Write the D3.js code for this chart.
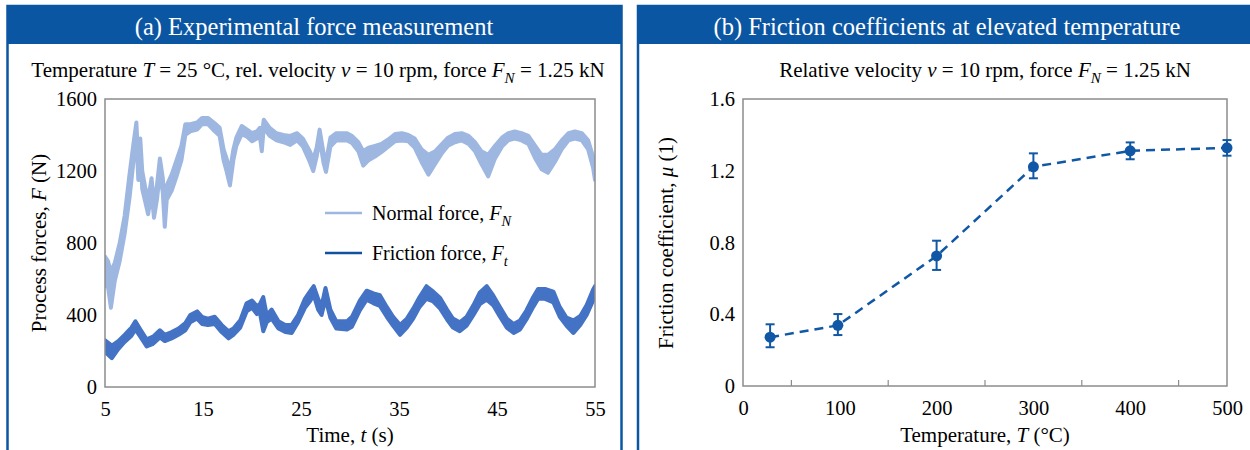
<!DOCTYPE html>
<html lang="en">
<head>
<meta charset="UTF-8">
<title>friction</title>
<script src="https://d3js.org/d3.v7.min.js"></script>
<style>
  body { margin: 0; background: #fff; }
  svg { display: block; font-family: "Liberation Serif", "Times New Roman", serif; }
  .axis line, .axis path { stroke: #8c8c8c; }
</style>
</head>
<body>
<script>
// ---- panel (a): force trace, [lo, hi] band per time step
const normalT = [5.0, 5.3, 5.6, 6.0, 6.5, 7.0, 7.5, 7.9, 8.2, 8.4, 8.6, 8.8, 9.1, 9.4, 9.75, 10.0, 10.3, 10.6, 10.9, 11.1,
  11.3, 11.8, 12.3, 12.8, 13.2, 13.7, 14.4, 14.9, 15.5, 16.2, 16.7, 17.1, 17.4, 17.75, 18.1, 18.4, 18.95, 19.5, 20.0, 20.5,
  20.8, 21.0, 21.2, 21.8, 22.5, 23.2, 23.9, 24.6, 25.2, 25.9, 26.25, 26.6, 26.9, 27.3, 27.55, 28.0, 28.6, 29.7, 30.2, 30.85,
  31.35, 31.9, 32.55, 33.2, 33.9, 34.6, 35.3, 35.95, 36.6, 37.3, 38.0, 38.7, 39.4, 40.0, 40.7, 41.4, 42.1, 42.75, 43.4, 44.1,
  44.8, 45.5, 46.15, 46.8, 47.5, 48.2, 48.9, 49.55, 50.2, 50.9, 51.6, 52.3, 52.95, 53.65, 54.3, 54.8, 55.0];
const normalLo = [560, 560, 440, 590, 700, 850, 1050, 1250, 1400, 1150, 1300, 1100, 1030, 960, 1080, 940, 1040, 1190, 1080, 890,
  1040, 1090, 1170, 1260, 1400, 1420, 1430, 1460, 1460, 1420, 1395, 1260, 1200, 1120, 1260, 1340, 1405, 1390, 1365, 1380,
  1395, 1310, 1440, 1395, 1370, 1360, 1345, 1370, 1335, 1250, 1200, 1280, 1380, 1245, 1195, 1335, 1370, 1370, 1355, 1310,
  1230, 1260, 1280, 1305, 1335, 1365, 1370, 1365, 1330, 1250, 1180, 1240, 1300, 1340, 1360, 1370, 1350, 1310, 1240, 1170,
  1270, 1335, 1370, 1380, 1370, 1350, 1270, 1210, 1190, 1250, 1320, 1370, 1380, 1370, 1320, 1220, 1150];
const normalHi = [725, 700, 640, 690, 800, 950, 1180, 1350, 1470, 1250, 1380, 1200, 1110, 1040, 1160, 1010, 1120, 1270, 1160, 960,
  1120, 1180, 1260, 1340, 1460, 1460, 1470, 1495, 1495, 1465, 1440, 1320, 1270, 1200, 1320, 1385, 1450, 1430, 1410, 1420,
  1440, 1400, 1485, 1440, 1410, 1400, 1395, 1410, 1380, 1310, 1265, 1330, 1430, 1300, 1250, 1385, 1410, 1410, 1395, 1360,
  1310, 1330, 1340, 1350, 1375, 1405, 1410, 1400, 1380, 1320, 1290, 1310, 1350, 1385, 1405, 1410, 1395, 1360, 1310, 1290,
  1340, 1385, 1410, 1420, 1410, 1395, 1340, 1290, 1290, 1320, 1370, 1410, 1420, 1410, 1370, 1280, 1250];

const frictionT = [5.0, 5.7, 6.35, 7.0, 7.7, 8.1, 8.6, 9.25, 9.9, 10.6, 11.1, 11.8, 12.5, 13.2, 13.7, 14.4, 14.9, 15.5, 16.2, 16.9,
  17.6, 18.1, 18.8, 19.45, 20.0, 20.5, 20.8, 21.15, 21.5, 22.0, 22.7, 23.4, 24.05, 24.7, 25.4, 25.9, 26.3, 26.75, 27.1, 27.5,
  28.0, 28.6, 29.7, 30.2, 31.0, 31.7, 32.4, 33.05, 33.75, 34.4, 35.1, 35.8, 36.45, 37.1, 37.8, 38.5, 39.2, 39.9, 40.5, 41.2,
  41.9, 42.6, 43.25, 43.95, 44.6, 45.3, 46.0, 46.7, 47.35, 48.0, 48.7, 49.2, 49.9, 50.75, 51.4, 52.1, 52.8, 53.5, 54.15, 54.8, 55.0];
const frictionLo = [195, 160, 210, 250, 285, 320, 280, 225, 240, 275, 255, 270, 290, 315, 360, 380, 350, 345, 350, 305,
  270, 290, 330, 420, 440, 405, 415, 310, 360, 380, 325, 305, 300, 360, 440, 475, 510, 430, 400, 490,
  385, 325, 320, 335, 425, 485, 465, 450, 390, 340, 290, 330, 380, 445, 490, 475, 435, 375, 330, 310,
  340, 400, 460, 485, 455, 390, 330, 300, 320, 375, 445, 490, 490, 470, 390, 340, 300, 345, 400, 480, 500];
const frictionHi = [260, 230, 255, 290, 330, 365, 320, 265, 280, 315, 290, 305, 325, 355, 400, 420, 390, 380, 390, 345,
  310, 325, 370, 465, 480, 450, 460, 500, 400, 430, 365, 345, 345, 400, 490, 530, 560, 490, 450, 550,
  430, 365, 365, 390, 480, 535, 520, 510, 445, 390, 345, 380, 435, 500, 560, 530, 495, 430, 380, 360,
  390, 455, 525, 560, 510, 445, 380, 350, 370, 425, 500, 545, 545, 530, 445, 385, 370, 395, 455, 540, 560];

const forceTicksX = [5, 15, 25, 35, 45, 55];
const forceTicksY = [0, 400, 800, 1200, 1600];

// ---- panel (b): friction coefficient vs temperature
const tempC = [28, 98, 200, 300, 400, 500];
const mu = [0.272, 0.338, 0.725, 1.222, 1.311, 1.328];
const muLo = [0.216, 0.284, 0.647, 1.158, 1.264, 1.284];
const muHi = [0.344, 0.401, 0.810, 1.297, 1.358, 1.371];
const tempTicks = [0, 100, 200, 300, 400, 500];
const tempMinor = [50, 150, 250, 350, 450];
const muTicks = [0, 0.4, 0.8, 1.2, 1.6];

const W = 1250, H = 450;
const BLUE = "#0b56a3";
const LIGHT = "#9db7e1", MID = "#4472c4", DARK = "#1152a0";

const svg = d3.select("body").append("svg").attr("width", W).attr("height", H);

// write text pieces: [string, italic?, sub?]
function rich(t, parts, size) {
  let back = 0;
  parts.forEach(p => {
    const ts = t.append("tspan").text(p[0]);
    if (p[1]) ts.attr("font-style", "italic");
    if (p[2]) {
      ts.attr("font-size", size * 0.72).attr("dy", size * 0.28);
      back = -size * 0.28;
    } else if (back) {
      ts.attr("dy", back);
      back = 0;
    }
  });
  return t;
}

// cut caption line above the frames
svg.append("text").attr("x", 250).attr("y", -6).attr("font-size", 26).text("g");
svg.append("text").attr("x", 828).attr("y", -6).attr("font-size", 26).text("g");

// frames + header bands
function panel(x0, x1, title, cx) {
  svg.append("rect").attr("x", x0).attr("y", 6).attr("width", x1 - x0).attr("height", H + 20)
    .attr("fill", "none").attr("stroke", BLUE).attr("stroke-width", 2.5);
  svg.append("rect").attr("x", x0).attr("y", 6).attr("width", x1 - x0).attr("height", 38).attr("fill", BLUE);
  svg.append("text").attr("x", cx).attr("y", 35).attr("text-anchor", "middle")
    .attr("fill", "#fff").attr("font-size", 24.5).text(title);
}
panel(7.5, 621.5, "(a) Experimental force measurement", 314);
panel(638, 1262, "(b) Friction coefficients at elevated temperature", 947);

function tickText(g) {
  g.attr("font-family", null).attr("font-size", null);
  g.select(".domain").remove();
  g.selectAll("text").attr("font-size", 20.5).attr("fill", "#000");
}

// ---------------- panel (a)
const xa = d3.scaleLinear().domain([5, 55]).range([105, 595]);
const ya = d3.scaleLinear().domain([0, 1600]).range([387, 99]);

rich(svg.append("text").attr("x", 318).attr("y", 77).attr("text-anchor", "middle").attr("font-size", 21),
  [["Temperature "], ["T", 1], [" = 25 \u00b0C, rel. velocity "], ["v", 1], [" = 10 rpm, force "], ["F", 1], ["N", 1, 1], [" = 1.25 kN"]], 21);

svg.append("defs").append("clipPath").attr("id", "clipA")
  .append("rect").attr("x", 105).attr("y", 96).attr("width", 490).attr("height", 291);

const ga = svg.append("g").attr("clip-path", "url(#clipA)");
const bandA = (T, lo, hi) => d3.area().x((d, i) => xa(T[i])).y0((d, i) => ya(lo[i])).y1((d, i) => ya(hi[i]))(T);
ga.append("path").attr("d", bandA(normalT, normalLo, normalHi))
  .attr("fill", LIGHT).attr("stroke", LIGHT).attr("stroke-width", 4).attr("stroke-linejoin", "round");
ga.append("path").attr("d", bandA(frictionT, frictionLo, frictionHi))
  .attr("fill", MID).attr("stroke", MID).attr("stroke-width", 4).attr("stroke-linejoin", "round");

svg.append("rect").attr("x", 105).attr("y", 99).attr("width", 490).attr("height", 288)
  .attr("fill", "none").attr("stroke", "#8c8c8c").attr("stroke-width", 1.5);

svg.append("g").attr("class", "axis").attr("transform", "translate(0,387)")
  .call(d3.axisBottom(xa).tickValues(forceTicksX).tickSize(0).tickPadding(14))
  .call(tickText);
svg.append("g").attr("class", "axis").attr("transform", "translate(105,0)")
  .call(d3.axisLeft(ya).tickValues(forceTicksY).tickFormat(d3.format("d")).tickSize(0).tickPadding(8))
  .call(tickText);

rich(svg.append("text").attr("x", 350).attr("y", 442).attr("text-anchor", "middle").attr("font-size", 21),
  [["Time, "], ["t", 1], [" (s)"]], 21);
rich(svg.append("text").attr("transform", "translate(46,243) rotate(-90)").attr("text-anchor", "middle").attr("font-size", 21),
  [["Process forces, "], ["F", 1], [" (N)"]], 21);

// legend
const leg = [["Normal force, ", "N", LIGHT, 213], ["Friction force, ", "t", DARK, 253]];
leg.forEach(l => {
  svg.append("line").attr("x1", 325).attr("x2", 362).attr("y1", l[3]).attr("y2", l[3])
    .attr("stroke", l[2]).attr("stroke-width", 2.5);
  rich(svg.append("text").attr("x", 372).attr("y", l[3] + 7).attr("font-size", 20),
    [[l[0]], ["F", 1], [l[1], 1, 1]], 20);
});

// ---------------- panel (b)
const xb = d3.scaleLinear().domain([0, 500]).range([743, 1227]);
const yb = d3.scaleLinear().domain([0, 1.6]).range([386, 99]);

rich(svg.append("text").attr("x", 985).attr("y", 77).attr("text-anchor", "middle").attr("font-size", 21),
  [["Relative velocity "], ["v", 1], [" = 10 rpm, force "], ["F", 1], ["N", 1, 1], [" = 1.25 kN"]], 21);

svg.append("rect").attr("x", 743).attr("y", 99).attr("width", 484).attr("height", 287)
  .attr("fill", "none").attr("stroke", "#8c8c8c").attr("stroke-width", 1.5);

svg.append("g").attr("class", "axis").attr("transform", "translate(0,386)")
  .call(d3.axisBottom(xb).tickValues(tempTicks).tickSize(0).tickPadding(14))
  .call(tickText);
svg.append("g").selectAll("line").data(tempMinor).join("line")
  .attr("x1", d => xb(d)).attr("x2", d => xb(d)).attr("y1", 386).attr("y2", 380)
  .attr("stroke", "#8c8c8c").attr("stroke-width", 1.2);
svg.append("g").attr("class", "axis").attr("transform", "translate(743,0)")
  .call(d3.axisLeft(yb).tickValues(muTicks).tickFormat(d => d === 0 ? "0" : d3.format(".1f")(d)).tickSize(0).tickPadding(8))
  .call(tickText);

rich(svg.append("text").attr("x", 985).attr("y", 442).attr("text-anchor", "middle").attr("font-size", 21),
  [["Temperature, "], ["T", 1], [" (\u00b0C)"]], 21);
rich(svg.append("text").attr("transform", "translate(673,243) rotate(-90)").attr("text-anchor", "middle").attr("font-size", 21),
  [["Friction coefficient, "], ["\u03bc", 1], [" (1)"]], 21);

const PT = "#1058a6";
svg.append("path").attr("d", d3.line().x((d, i) => xb(tempC[i])).y((d, i) => yb(mu[i]))(tempC))
  .attr("fill", "none").attr("stroke", PT).attr("stroke-width", 2.5).attr("stroke-dasharray", "9,6");

const eb = svg.append("g").attr("stroke", PT).attr("stroke-width", 2);
tempC.forEach((t, i) => {
  eb.append("line").attr("x1", xb(t)).attr("x2", xb(t)).attr("y1", yb(muLo[i])).attr("y2", yb(muHi[i]));
  [muLo[i], muHi[i]].forEach(v => eb.append("line")
    .attr("x1", xb(t) - 4.5).attr("x2", xb(t) + 4.5).attr("y1", yb(v)).attr("y2", yb(v)));
});
svg.append("g").selectAll("circle").data(tempC).join("circle")
  .attr("cx", d => xb(d)).attr("cy", (d, i) => yb(mu[i])).attr("r", 5.5).attr("fill", PT);
</script>
</body>
</html>
